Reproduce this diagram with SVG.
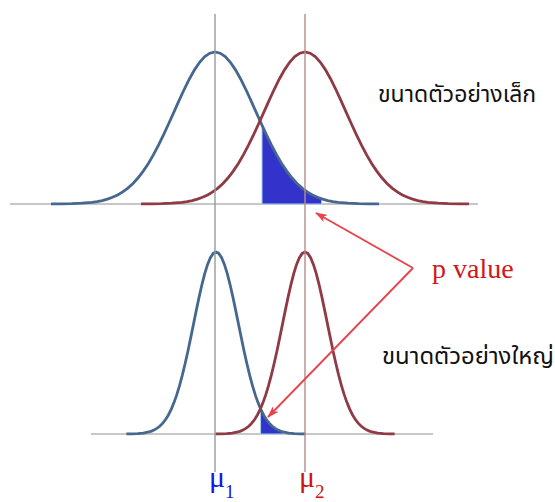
<svg xmlns="http://www.w3.org/2000/svg" xmlns:xlink="http://www.w3.org/1999/xlink" width="555" height="502" viewBox="0 0 555 502">
<style>
.axis{stroke:#b4b4b4;stroke-width:1.5;fill:none}
.vb{stroke:#9a9a9a;stroke-width:1.4;fill:none}
.vr{stroke:#b68c8c;stroke-width:1.4;fill:none}
.cb{stroke:#46688f;stroke-width:2.8;fill:none}
.cr{stroke:#8e3b45;stroke-width:2.8;fill:none}
.fill{fill:#3333cc;stroke:#9fd4f0;stroke-width:1;}
.arrow{stroke:#e8424a;stroke-width:1.8;fill:none}
.thai{font-family:"Noto Sans Thai","Noto Sans","DejaVu Sans",sans-serif;font-size:23px;fill:#111}
.serif{font-family:"Liberation Serif",serif}
</style>
<defs>
<path id="g" vector-effect="non-scaling-stroke" d="M-4,-0.0003 L-3.75,-0.0009 L-3.5,-0.0022 L-3.25,-0.0051 L-3,-0.0111 L-2.875,-0.0160 L-2.75,-0.0228 L-2.625,-0.0319 L-2.5,-0.0439 L-2.375,-0.0596 L-2.25,-0.0796 L-2.125,-0.1046 L-2,-0.1353 L-1.875,-0.1724 L-1.75,-0.2163 L-1.625,-0.2671 L-1.5,-0.3247 L-1.375,-0.3886 L-1.25,-0.4578 L-1.125,-0.5311 L-1,-0.6065 L-0.875,-0.6819 L-0.75,-0.7548 L-0.625,-0.8226 L-0.5,-0.8825 L-0.375,-0.9321 L-0.25,-0.9692 L-0.125,-0.9922 L0,-1 L0.125,-0.9922 L0.25,-0.9692 L0.375,-0.9321 L0.5,-0.8825 L0.625,-0.8226 L0.75,-0.7548 L0.875,-0.6819 L1,-0.6065 L1.125,-0.5311 L1.25,-0.4578 L1.375,-0.3886 L1.5,-0.3247 L1.625,-0.2671 L1.75,-0.2163 L1.875,-0.1724 L2,-0.1353 L2.125,-0.1046 L2.25,-0.0796 L2.375,-0.0596 L2.5,-0.0439 L2.625,-0.0319 L2.75,-0.0228 L2.875,-0.0160 L3,-0.0111 L3.25,-0.0051 L3.5,-0.0022 L3.75,-0.0009 L4,-0.0003"/>
<marker id="ah" viewBox="0 0 12 8" refX="11" refY="4" markerWidth="12" markerHeight="8" markerUnits="userSpaceOnUse" orient="auto">
<path d="M0,0 L12,4 L0,8 L3,4 Z" fill="#e8424a"/>
</marker>
</defs>

<g id="top-plot">
<line class="axis" x1="10" y1="204" x2="478" y2="204"/>
<path class="fill" vector-effect="non-scaling-stroke" transform="translate(215,204) scale(41,152)" d="M1.146,0 L1.146,-0.5186 L1.25,-0.4578 L1.375,-0.3886 L1.5,-0.3247 L1.625,-0.2671 L1.75,-0.2163 L1.875,-0.1724 L2,-0.1353 L2.125,-0.1046 L2.25,-0.0796 L2.375,-0.0596 L2.5,-0.0439 L2.6,-0.034 L2.6,0 Z"/>
<use xlink:href="#g" class="cb" transform="translate(215,204) scale(41,152)"/>
<use xlink:href="#g" class="cr" transform="translate(305,204) scale(41,152)"/>
</g>

<g id="bottom-plot">
<line class="axis" x1="91" y1="434" x2="433" y2="434"/>
<path class="fill" vector-effect="non-scaling-stroke" transform="translate(216,434) scale(22.4,182)" d="M1.99,0 L1.99,-0.138 L2.125,-0.1046 L2.25,-0.0796 L2.375,-0.0596 L2.5,-0.0439 L2.625,-0.0319 L2.75,-0.0228 L2.875,-0.0160 L3,-0.0111 L3,0 Z"/>
<use xlink:href="#g" class="cb" transform="translate(216,434) scale(22.4,182)"/>
<use xlink:href="#g" class="cr" transform="translate(305,434) scale(22.4,182)"/>
</g>

<g id="mean-lines">
<line class="vb" x1="215" y1="14" x2="215" y2="472"/>
<line class="vr" x1="305" y1="14" x2="305" y2="472"/>
</g>

<g id="connectors">
<polyline class="arrow" points="413,268 316,213" marker-end="url(#ah)"/>
<polyline class="arrow" points="413,268 268,417" marker-end="url(#ah)"/>
</g>

<g id="labels">
<text class="thai" x="378" y="102">ขนาดตัวอย่างเล็ก</text>
<text class="serif" x="432" y="278" font-size="28" fill="#d01818">p value</text>
<text class="thai" x="382" y="364" textLength="172" lengthAdjust="spacingAndGlyphs">ขนาดตัวอย่างใหญ่</text>
<text class="serif" x="209" y="487" font-size="30" fill="#1515e6">μ<tspan font-size="19" dy="11">1</tspan></text>
<text class="serif" x="299" y="487" font-size="30" fill="#cc1515">μ<tspan font-size="19" dy="11">2</tspan></text>
</g>
</svg>
